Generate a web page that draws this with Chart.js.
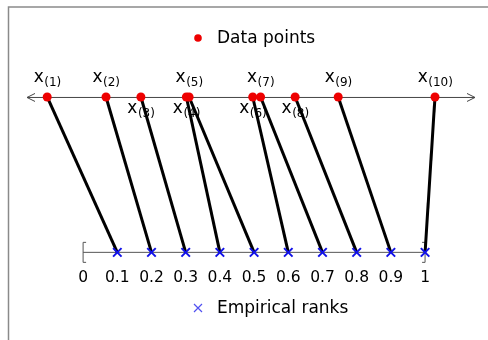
<!DOCTYPE html>
<html><head><meta charset="utf-8">
<script src="https://cdn.jsdelivr.net/npm/chart.js@4.4.1/dist/chart.umd.min.js"></script>
<style>html,body{margin:0;padding:0;background:#fff}canvas{display:block}</style>
</head><body><canvas id="c" width="488" height="340"></canvas>
<script>
// ---- data ----
const dataValues = [-0.105, 0.067, 0.169, 0.302, 0.310, 0.496, 0.519, 0.620, 0.746, 1.029];
const empiricalRanks = [0.1, 0.2, 0.3, 0.4, 0.5, 0.6, 0.7, 0.8, 0.9, 1.0];
const rankTicks = [0, 0.1, 0.2, 0.3, 0.4, 0.5, 0.6, 0.7, 0.8, 0.9, 1];
const orderLabels = ['1', '2', '3', '4', '5', '6', '7', '8', '9', '10'];
const labelAbove = [true, true, false, false, true, false, true, false, true, true];
const legendLabels = ['Data points', 'Empirical ranks'];
const rowLevels = { data: 1, ranks: 0 };

// ---- style ----
const FONT = '"DejaVu Sans", "Liberation Sans", Arial, sans-serif';
const RED = '#ee0000';
const BLUE = '#1010e8';

const connectors = dataValues.map((v, i) => ({
  type: 'scatter',
  data: [{ x: v, y: rowLevels.data }, { x: empiricalRanks[i], y: rowLevels.ranks }],
  showLine: true,
  borderColor: '#000',
  borderWidth: 3,
  pointRadius: 0,
  order: 2
}));

const decor = {
  id: 'decor',
  beforeDatasetsDraw(chart) {
    const ctx = chart.ctx;
    const xs = chart.scales.x, ys = chart.scales.y;
    const area = chart.chartArea;
    ctx.save();
    // frame
    ctx.strokeStyle = '#8a8a8a';
    ctx.lineWidth = 1.5;
    ctx.beginPath();
    ctx.moveTo(8.5, area.bottom);
    ctx.lineTo(8.5, 7);
    ctx.lineTo(area.right, 7);
    ctx.stroke();
    // top axis with arrows
    const yTop = ys.getPixelForValue(rowLevels.data);
    const xl = area.left + 27, xr = area.right - 13;
    ctx.strokeStyle = '#444';
    ctx.lineWidth = 1;
    ctx.beginPath();
    ctx.moveTo(xl, yTop + 0.5); ctx.lineTo(xr, yTop + 0.5);
    ctx.moveTo(xl + 8, yTop - 3.5); ctx.lineTo(xl, yTop + 0.5); ctx.lineTo(xl + 8, yTop + 4.5);
    ctx.moveTo(xr - 8, yTop - 3.5); ctx.lineTo(xr, yTop + 0.5); ctx.lineTo(xr - 8, yTop + 4.5);
    ctx.stroke();
    // brackets on the rank line
    const yB = ys.getPixelForValue(rowLevels.ranks);
    const x0 = xs.getPixelForValue(rankTicks[0]);
    const x1 = xs.getPixelForValue(rankTicks[rankTicks.length - 1]);
    ctx.strokeStyle = '#555';
    ctx.beginPath();
    ctx.moveTo(x0 + 3, yB - 10); ctx.lineTo(x0, yB - 10); ctx.lineTo(x0, yB + 10); ctx.lineTo(x0 + 3, yB + 10);
    ctx.moveTo(x1 - 3, yB - 10); ctx.lineTo(x1, yB - 10); ctx.lineTo(x1, yB + 10); ctx.lineTo(x1 - 3, yB + 10);
    ctx.stroke();
    // point labels x_(i)
    ctx.fillStyle = '#000';
    ctx.textBaseline = 'alphabetic';
    dataValues.forEach((v, i) => {
      const px = xs.getPixelForValue(v);
      const base = labelAbove[i] ? yTop - 15 : yTop + 16;
      ctx.font = '17px ' + FONT;
      const wx = ctx.measureText('x').width;
      ctx.font = '12px ' + FONT;
      const ws = ctx.measureText('(' + orderLabels[i] + ')').width;
      const left = px - (wx + ws) / 2;
      ctx.font = '17px ' + FONT;
      ctx.textAlign = 'left';
      ctx.fillText('x', left, base);
      ctx.font = '12px ' + FONT;
      ctx.fillText('(' + orderLabels[i] + ')', left + wx + 0.5, base + 4);
    });
    ctx.restore();
  },
  afterDraw(chart) {
    const ctx = chart.ctx;
    ctx.save();
    ctx.font = '17px ' + FONT;
    ctx.textAlign = 'left';
    ctx.textBaseline = 'middle';
    // legend 1
    ctx.beginPath();
    ctx.fillStyle = RED;
    ctx.arc(198, 38, 3.8, 0, Math.PI * 2);
    ctx.fill();
    ctx.fillStyle = '#000';
    ctx.fillText(legendLabels[0], 217, 39);
    // legend 2
    ctx.strokeStyle = '#5050f0';
    ctx.lineWidth = 1.2;
    ctx.beginPath();
    ctx.moveTo(194, 304); ctx.lineTo(202, 312);
    ctx.moveTo(202, 304); ctx.lineTo(194, 312);
    ctx.stroke();
    ctx.fillText(legendLabels[1], 217, 309);
    ctx.restore();
  }
};

new Chart(document.getElementById('c'), {
  type: 'scatter',
  data: {
    datasets: [
      {
        label: legendLabels[0],
        data: dataValues.map(v => ({ x: v, y: rowLevels.data })),
        pointStyle: 'circle',
        pointRadius: 4.5,
        backgroundColor: RED,
        borderColor: RED,
        borderWidth: 0,
        order: 0
      },
      {
        label: legendLabels[1],
        data: empiricalRanks.map(v => ({ x: v, y: rowLevels.ranks })),
        pointStyle: 'crossRot',
        pointRadius: 6,
        borderColor: BLUE,
        borderWidth: 2,
        order: 1
      },
      ...connectors,
      {
        type: 'scatter',
        data: [{ x: rankTicks[0], y: rowLevels.ranks }, { x: rankTicks[rankTicks.length - 1], y: rowLevels.ranks }],
        showLine: true,
        borderColor: '#555',
        borderWidth: 1,
        pointRadius: 0,
        order: 3
      }
    ]
  },
  options: {
    responsive: false,
    animation: false,
    devicePixelRatio: 1,
    layout: { padding: 0, autoPadding: false },
    plugins: { legend: { display: false }, tooltip: { enabled: false } },
    scales: {
      x: {
        type: 'linear',
        min: -0.243,
        max: 1.184,
        position: { y: 0 },
        grid: { display: false, drawTicks: false },
        border: { display: false },
        afterBuildTicks: s => { s.ticks = rankTicks.map(v => ({ value: v })); },
        ticks: {
          padding: 16,
          color: '#000',
          font: { family: FONT, size: 15.5 },
          maxRotation: 0,
          autoSkip: false,
          callback: v => String(v)
        }
      },
      y: {
        type: 'linear',
        display: false,
        min: -0.564,
        max: 1.624
      }
    }
  },
  plugins: [decor]
});
</script>
</body></html>
